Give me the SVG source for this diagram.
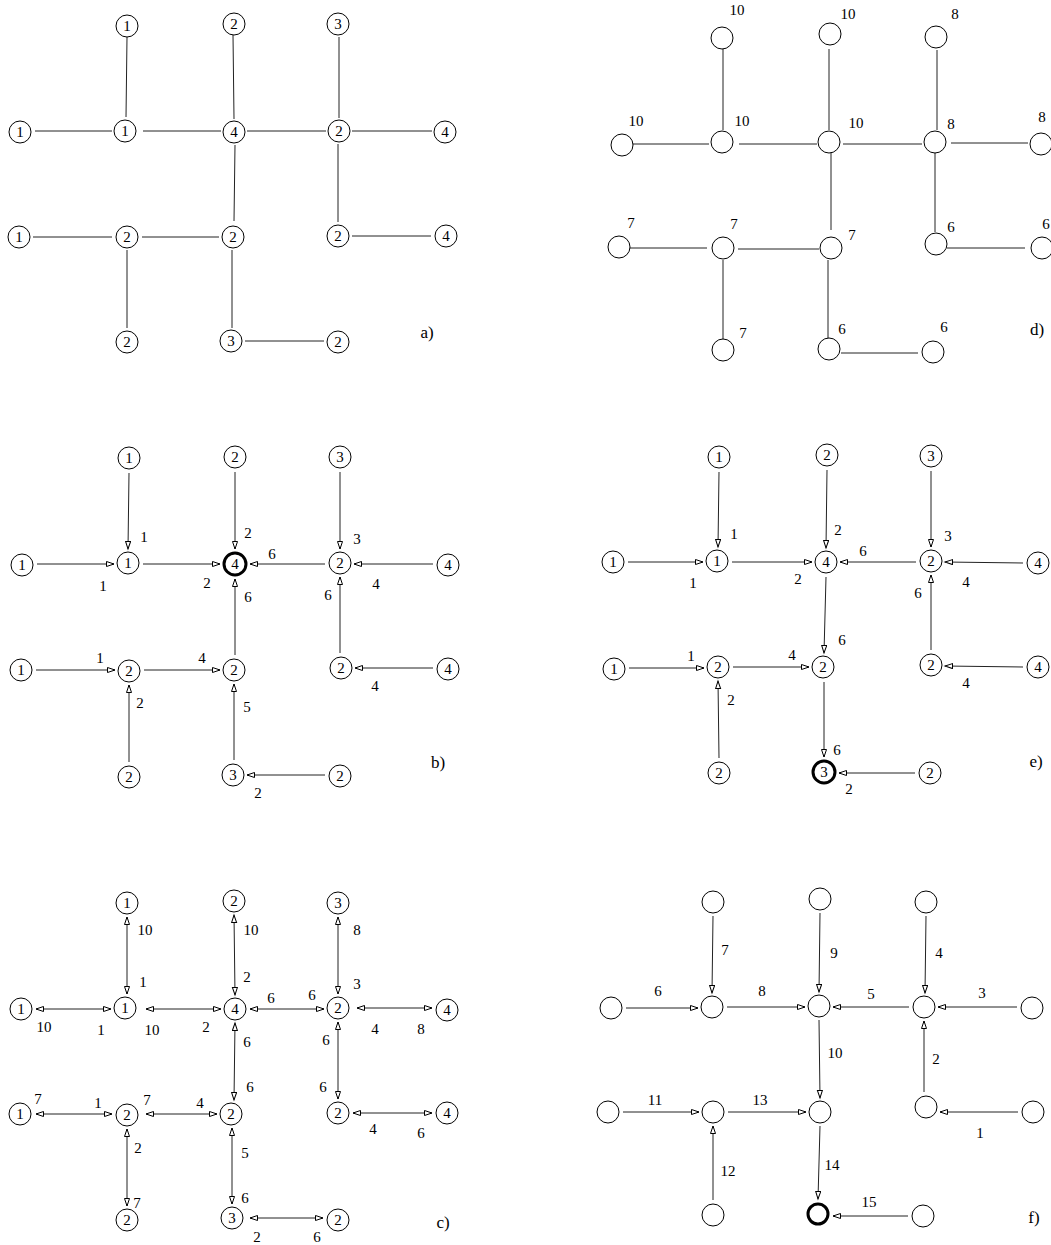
<svg xmlns="http://www.w3.org/2000/svg" width="1051" height="1245" viewBox="0 0 1051 1245">
<style>
circle{fill:#fff;stroke:#000;stroke-width:1}
circle.b{stroke-width:3}
text{font-family:"Liberation Serif","Times New Roman",serif;font-size:15px;fill:#000;text-anchor:middle}
text.p{font-size:17px}
line{stroke:#222;stroke-width:1}
.d line{marker-end:url(#ah)}
.bi line{marker-end:url(#ah);marker-start:url(#ah)}
</style>
<defs>
<marker id="ah" markerUnits="userSpaceOnUse" markerWidth="10" markerHeight="8" refX="8" refY="3" orient="auto-start-reverse"><path d="M0.5,0.5 L8,3 L0.5,5.5 z" fill="#fff" stroke="#000" stroke-width="1"/></marker>
</defs>
<rect width="1051" height="1245" fill="#fff"/>

<!-- Panel a -->
<g id="panel-a">
<g id="a-edges">
<line x1="127" y1="37" x2="126" y2="117"/>
<line x1="233" y1="35" x2="234" y2="119"/>
<line x1="339" y1="37" x2="339" y2="118"/>
<line x1="35" y1="131" x2="112" y2="131"/>
<line x1="143" y1="131" x2="221" y2="131"/>
<line x1="247" y1="131" x2="326" y2="131"/>
<line x1="352" y1="131" x2="432" y2="131"/>
<line x1="235" y1="145" x2="234" y2="221"/>
<line x1="338" y1="144" x2="338" y2="222"/>
<line x1="33" y1="237" x2="112" y2="237"/>
<line x1="142" y1="237" x2="219" y2="237"/>
<line x1="352" y1="236" x2="431" y2="236"/>
<line x1="127" y1="250" x2="127" y2="328"/>
<line x1="232" y1="250" x2="232" y2="328"/>
<line x1="245" y1="341" x2="324" y2="341"/>
</g>
<g id="a-n1"><circle cx="127" cy="26" r="11"/><text x="127" y="31">1</text></g>
<g id="a-n2"><circle cx="234" cy="24" r="11"/><text x="234" y="29">2</text></g>
<g id="a-n3"><circle cx="338" cy="24" r="11"/><text x="338" y="29">3</text></g>
<g id="a-n4"><circle cx="20" cy="132" r="11"/><text x="20" y="137">1</text></g>
<g id="a-n5"><circle cx="125" cy="131" r="11"/><text x="125" y="136">1</text></g>
<g id="a-n6"><circle cx="234" cy="132" r="11"/><text x="234" y="137">4</text></g>
<g id="a-n7"><circle cx="339" cy="131" r="11"/><text x="339" y="136">2</text></g>
<g id="a-n8"><circle cx="445" cy="132" r="11"/><text x="445" y="137">4</text></g>
<g id="a-n9"><circle cx="19" cy="237" r="11"/><text x="19" y="242">1</text></g>
<g id="a-n10"><circle cx="127" cy="237" r="11"/><text x="127" y="242">2</text></g>
<g id="a-n11"><circle cx="233" cy="237" r="11"/><text x="233" y="242">2</text></g>
<g id="a-n12"><circle cx="338" cy="236" r="11"/><text x="338" y="241">2</text></g>
<g id="a-n13"><circle cx="446" cy="236" r="11"/><text x="446" y="241">4</text></g>
<g id="a-n14"><circle cx="127" cy="342" r="11"/><text x="127" y="347">2</text></g>
<g id="a-n15"><circle cx="231" cy="341" r="11"/><text x="231" y="346">3</text></g>
<g id="a-n16"><circle cx="338" cy="342" r="11"/><text x="338" y="347">2</text></g>
<text class="p" x="427" y="338">a)</text>
</g>

<!-- Panel d -->
<g id="panel-d">
<g id="d-edges">
<line x1="723" y1="49" x2="723" y2="130"/>
<line x1="829" y1="49" x2="829" y2="130"/>
<line x1="937" y1="50" x2="937" y2="130"/>
<line x1="633" y1="144" x2="709" y2="144"/>
<line x1="739" y1="144" x2="817" y2="144"/>
<line x1="843" y1="144" x2="922" y2="144"/>
<line x1="951" y1="143" x2="1028" y2="143"/>
<line x1="831" y1="153" x2="831" y2="230"/>
<line x1="935" y1="153" x2="935" y2="232"/>
<line x1="629" y1="248" x2="707" y2="248"/>
<line x1="738" y1="249" x2="819" y2="249"/>
<line x1="947" y1="248" x2="1025" y2="248"/>
<line x1="723" y1="260" x2="723" y2="340"/>
<line x1="828" y1="260" x2="828" y2="340"/>
<line x1="841" y1="353" x2="918" y2="353"/>
</g>
<g id="d-n1"><circle cx="722" cy="38" r="11"/><text x="737" y="15">10</text></g>
<g id="d-n2"><circle cx="830" cy="34" r="11"/><text x="848" y="19">10</text></g>
<g id="d-n3"><circle cx="936" cy="37" r="11"/><text x="955" y="19">8</text></g>
<g id="d-n4"><circle cx="622" cy="145" r="11"/><text x="636" y="126">10</text></g>
<g id="d-n5"><circle cx="722" cy="142" r="11"/><text x="742" y="126">10</text></g>
<g id="d-n6"><circle cx="829" cy="142" r="11"/><text x="856" y="128">10</text></g>
<g id="d-n7"><circle cx="935" cy="142" r="11"/><text x="951" y="129">8</text></g>
<g id="d-n8"><circle cx="1041" cy="144" r="11"/><text x="1042" y="122">8</text></g>
<g id="d-n9"><circle cx="619" cy="247" r="11"/><text x="631" y="228">7</text></g>
<g id="d-n10"><circle cx="723" cy="248" r="11"/><text x="734" y="229">7</text></g>
<g id="d-n11"><circle cx="831" cy="248" r="11"/><text x="852" y="240">7</text></g>
<g id="d-n12"><circle cx="936" cy="244" r="11"/><text x="951" y="232">6</text></g>
<g id="d-n13"><circle cx="1042" cy="248" r="11"/><text x="1046" y="229">6</text></g>
<g id="d-n14"><circle cx="723" cy="350" r="11"/><text x="743" y="338">7</text></g>
<g id="d-n15"><circle cx="829" cy="349" r="11"/><text x="842" y="334">6</text></g>
<g id="d-n16"><circle cx="933" cy="352" r="11"/><text x="944" y="332">6</text></g>
<text class="p" x="1037" y="335">d)</text>
</g>

<!-- Panel b -->
<g id="panel-b">
<g id="b-edges" class="d">
<line x1="129" y1="473" x2="128" y2="549"/>
<line x1="235" y1="472" x2="235" y2="549"/>
<line x1="340" y1="472" x2="340" y2="549"/>
<line x1="37" y1="564" x2="114" y2="564"/>
<line x1="143" y1="564" x2="220" y2="564"/>
<line x1="325" y1="564" x2="250" y2="564"/>
<line x1="433" y1="564" x2="354" y2="564"/>
<line x1="235" y1="655" x2="235" y2="579"/>
<line x1="340" y1="653" x2="340" y2="577"/>
<line x1="36" y1="670" x2="115" y2="670"/>
<line x1="144" y1="670" x2="220" y2="670"/>
<line x1="433" y1="668" x2="355" y2="668"/>
<line x1="129" y1="762" x2="129" y2="685"/>
<line x1="234" y1="760" x2="234" y2="684"/>
<line x1="325" y1="775" x2="247" y2="775"/>
</g>
<g id="b-labels">
<text x="144" y="542">1</text><text x="248" y="538">2</text><text x="357" y="544">3</text>
<text x="103" y="591">1</text><text x="207" y="588">2</text><text x="272" y="559">6</text><text x="376" y="589">4</text>
<text x="248" y="602">6</text><text x="328" y="600">6</text>
<text x="100" y="663">1</text><text x="202" y="663">4</text><text x="375" y="691">4</text>
<text x="140" y="708">2</text><text x="247" y="712">5</text><text x="258" y="798">2</text>
</g>
<g id="b-n1"><circle cx="129" cy="458" r="11"/><text x="129" y="463">1</text></g>
<g id="b-n2"><circle cx="235" cy="457" r="11"/><text x="235" y="462">2</text></g>
<g id="b-n3"><circle cx="340" cy="457" r="11"/><text x="340" y="462">3</text></g>
<g id="b-n4"><circle cx="22" cy="565" r="11"/><text x="22" y="570">1</text></g>
<g id="b-n5"><circle cx="128" cy="563" r="11"/><text x="128" y="568">1</text></g>
<g id="b-n6"><circle class="b" cx="235" cy="564" r="11"/><text x="235" y="569">4</text></g>
<g id="b-n7"><circle cx="340" cy="563" r="11"/><text x="340" y="568">2</text></g>
<g id="b-n8"><circle cx="448" cy="565" r="11"/><text x="448" y="570">4</text></g>
<g id="b-n9"><circle cx="21" cy="670" r="11"/><text x="21" y="675">1</text></g>
<g id="b-n10"><circle cx="129" cy="671" r="11"/><text x="129" y="676">2</text></g>
<g id="b-n11"><circle cx="234" cy="670" r="11"/><text x="234" y="675">2</text></g>
<g id="b-n12"><circle cx="341" cy="668" r="11"/><text x="341" y="673">2</text></g>
<g id="b-n13"><circle cx="448" cy="669" r="11"/><text x="448" y="674">4</text></g>
<g id="b-n14"><circle cx="129" cy="777" r="11"/><text x="129" y="782">2</text></g>
<g id="b-n15"><circle cx="233" cy="775" r="11"/><text x="233" y="780">3</text></g>
<g id="b-n16"><circle cx="340" cy="776" r="11"/><text x="340" y="781">2</text></g>
<text class="p" x="438" y="768">b)</text>
</g>

<!-- Panel e -->
<g id="panel-e">
<g id="e-edges" class="d">
<line x1="719" y1="472" x2="718" y2="547"/>
<line x1="827" y1="470" x2="826" y2="548"/>
<line x1="931" y1="471" x2="931" y2="547"/>
<line x1="628" y1="562" x2="703" y2="562"/>
<line x1="732" y1="562" x2="812" y2="562"/>
<line x1="916" y1="562" x2="840" y2="562"/>
<line x1="1023" y1="563" x2="945" y2="562"/>
<line x1="826" y1="577" x2="824" y2="653"/>
<line x1="931" y1="650" x2="931" y2="575"/>
<line x1="629" y1="668" x2="704" y2="668"/>
<line x1="733" y1="667" x2="809" y2="667"/>
<line x1="1023" y1="667" x2="945" y2="666"/>
<line x1="719" y1="758" x2="718" y2="681"/>
<line x1="824" y1="682" x2="824" y2="757"/>
<line x1="915" y1="773" x2="839" y2="773"/>
</g>
<g id="e-labels">
<text x="734" y="539">1</text><text x="838" y="535">2</text><text x="948" y="541">3</text>
<text x="693" y="588">1</text><text x="798" y="584">2</text><text x="863" y="556">6</text><text x="966" y="587">4</text>
<text x="842" y="645">6</text><text x="918" y="598">6</text>
<text x="691" y="661">1</text><text x="792" y="660">4</text><text x="966" y="688">4</text>
<text x="731" y="705">2</text><text x="837" y="755">6</text><text x="849" y="794">2</text>
</g>
<g id="e-n1"><circle cx="719" cy="457" r="11"/><text x="719" y="462">1</text></g>
<g id="e-n2"><circle cx="827" cy="455" r="11"/><text x="827" y="460">2</text></g>
<g id="e-n3"><circle cx="931" cy="456" r="11"/><text x="931" y="461">3</text></g>
<g id="e-n4"><circle cx="613" cy="562" r="11"/><text x="613" y="567">1</text></g>
<g id="e-n5"><circle cx="717" cy="561" r="11"/><text x="717" y="566">1</text></g>
<g id="e-n6"><circle cx="826" cy="562" r="11"/><text x="826" y="567">4</text></g>
<g id="e-n7"><circle cx="931" cy="561" r="11"/><text x="931" y="566">2</text></g>
<g id="e-n8"><circle cx="1038" cy="563" r="11"/><text x="1038" y="568">4</text></g>
<g id="e-n9"><circle cx="614" cy="669" r="11"/><text x="614" y="674">1</text></g>
<g id="e-n10"><circle cx="718" cy="667" r="11"/><text x="718" y="672">2</text></g>
<g id="e-n11"><circle cx="823" cy="667" r="11"/><text x="823" y="672">2</text></g>
<g id="e-n12"><circle cx="931" cy="665" r="11"/><text x="931" y="670">2</text></g>
<g id="e-n13"><circle cx="1038" cy="667" r="11"/><text x="1038" y="672">4</text></g>
<g id="e-n14"><circle cx="719" cy="773" r="11"/><text x="719" y="778">2</text></g>
<g id="e-n15"><circle class="b" cx="824" cy="772" r="11"/><text x="824" y="777">3</text></g>
<g id="e-n16"><circle cx="930" cy="773" r="11"/><text x="930" y="778">2</text></g>
<text class="p" x="1036" y="767">e)</text>
</g>

<!-- Panel c -->
<g id="panel-c">
<g id="c-edges" class="bi">
<line x1="127" y1="917" x2="127" y2="994"/>
<line x1="234" y1="915" x2="235" y2="995"/>
<line x1="338" y1="917" x2="338" y2="994"/>
<line x1="36" y1="1009" x2="111" y2="1009"/>
<line x1="146" y1="1009" x2="221" y2="1009"/>
<line x1="250" y1="1009" x2="324" y2="1009"/>
<line x1="357" y1="1008" x2="432" y2="1008"/>
<line x1="235" y1="1023" x2="234" y2="1100"/>
<line x1="338" y1="1022" x2="338" y2="1099"/>
<line x1="36" y1="1114" x2="112" y2="1114"/>
<line x1="146" y1="1114" x2="217" y2="1114"/>
<line x1="353" y1="1113" x2="432" y2="1113"/>
<line x1="127" y1="1129" x2="127" y2="1206"/>
<line x1="232" y1="1128" x2="232" y2="1204"/>
<line x1="250" y1="1218" x2="323" y2="1218"/>
</g>
<g id="c-labels">
<text x="145" y="935">10</text><text x="143" y="987">1</text>
<text x="251" y="935">10</text><text x="247" y="982">2</text>
<text x="357" y="935">8</text><text x="357" y="989">3</text>
<text x="44" y="1032">10</text><text x="101" y="1035">1</text>
<text x="152" y="1035">10</text><text x="206" y="1032">2</text>
<text x="271" y="1003">6</text><text x="312" y="1000">6</text>
<text x="375" y="1034">4</text><text x="421" y="1034">8</text>
<text x="247" y="1047">6</text><text x="250" y="1092">6</text>
<text x="326" y="1045">6</text><text x="323" y="1092">6</text>
<text x="38" y="1104">7</text><text x="98" y="1108">1</text>
<text x="147" y="1105">7</text><text x="200" y="1108">4</text>
<text x="373" y="1134">4</text><text x="421" y="1138">6</text>
<text x="138" y="1153">2</text><text x="137" y="1208">7</text>
<text x="245" y="1158">5</text><text x="245" y="1203">6</text>
<text x="257" y="1242">2</text><text x="317" y="1242">6</text>
</g>
<g id="c-n1"><circle cx="127" cy="903" r="11"/><text x="127" y="908">1</text></g>
<g id="c-n2"><circle cx="234" cy="901" r="11"/><text x="234" y="906">2</text></g>
<g id="c-n3"><circle cx="338" cy="903" r="11"/><text x="338" y="908">3</text></g>
<g id="c-n4"><circle cx="21" cy="1009" r="11"/><text x="21" y="1014">1</text></g>
<g id="c-n5"><circle cx="125" cy="1008" r="11"/><text x="125" y="1013">1</text></g>
<g id="c-n6"><circle cx="235" cy="1009" r="11"/><text x="235" y="1014">4</text></g>
<g id="c-n7"><circle cx="338" cy="1008" r="11"/><text x="338" y="1013">2</text></g>
<g id="c-n8"><circle cx="447" cy="1010" r="11"/><text x="447" y="1015">4</text></g>
<g id="c-n9"><circle cx="20" cy="1114" r="11"/><text x="20" y="1119">1</text></g>
<g id="c-n10"><circle cx="127" cy="1115" r="11"/><text x="127" y="1120">2</text></g>
<g id="c-n11"><circle cx="231" cy="1114" r="11"/><text x="231" y="1119">2</text></g>
<g id="c-n12"><circle cx="338" cy="1113" r="11"/><text x="338" y="1118">2</text></g>
<g id="c-n13"><circle cx="447" cy="1113" r="11"/><text x="447" y="1118">4</text></g>
<g id="c-n14"><circle cx="127" cy="1220" r="11"/><text x="127" y="1225">2</text></g>
<g id="c-n15"><circle cx="232" cy="1218" r="11"/><text x="232" y="1223">3</text></g>
<g id="c-n16"><circle cx="338" cy="1220" r="11"/><text x="338" y="1225">2</text></g>
<text class="p" x="443" y="1228">c)</text>
</g>

<!-- Panel f -->
<g id="panel-f">
<g id="f-edges" class="d">
<line x1="713" y1="916" x2="712" y2="993"/>
<line x1="820" y1="913" x2="819" y2="992"/>
<line x1="926" y1="916" x2="925" y2="993"/>
<line x1="626" y1="1008" x2="698" y2="1008"/>
<line x1="727" y1="1007" x2="805" y2="1007"/>
<line x1="909" y1="1007" x2="833" y2="1007"/>
<line x1="1017" y1="1007" x2="938" y2="1007"/>
<line x1="924" y1="1092" x2="924" y2="1021"/>
<line x1="819" y1="1020" x2="820" y2="1098"/>
<line x1="623" y1="1112" x2="699" y2="1112"/>
<line x1="728" y1="1112" x2="806" y2="1112"/>
<line x1="1018" y1="1112" x2="940" y2="1112"/>
<line x1="713" y1="1200" x2="713" y2="1126"/>
<line x1="820" y1="1126" x2="818" y2="1199"/>
<line x1="908" y1="1216" x2="833" y2="1216"/>
</g>
<g id="f-labels">
<text x="725" y="955">7</text><text x="834" y="958">9</text><text x="939" y="958">4</text>
<text x="658" y="996">6</text><text x="762" y="996">8</text><text x="871" y="999">5</text><text x="982" y="998">3</text>
<text x="936" y="1064">2</text><text x="835" y="1058">10</text>
<text x="655" y="1105">11</text><text x="760" y="1105">13</text><text x="980" y="1138">1</text>
<text x="728" y="1176">12</text><text x="832" y="1170">14</text><text x="869" y="1207">15</text>
</g>
<g id="f-n1"><circle cx="713" cy="902" r="11"/></g>
<g id="f-n2"><circle cx="820" cy="899" r="11"/></g>
<g id="f-n3"><circle cx="926" cy="902" r="11"/></g>
<g id="f-n4"><circle cx="611" cy="1008" r="11"/></g>
<g id="f-n5"><circle cx="712" cy="1007" r="11"/></g>
<g id="f-n6"><circle cx="819" cy="1006" r="11"/></g>
<g id="f-n7"><circle cx="924" cy="1007" r="11"/></g>
<g id="f-n8"><circle cx="1032" cy="1008" r="11"/></g>
<g id="f-n9"><circle cx="608" cy="1112" r="11"/></g>
<g id="f-n10"><circle cx="713" cy="1112" r="11"/></g>
<g id="f-n11"><circle cx="820" cy="1112" r="11"/></g>
<g id="f-n12"><circle cx="926" cy="1107" r="11"/></g>
<g id="f-n13"><circle cx="1033" cy="1112" r="11"/></g>
<g id="f-n14"><circle cx="713" cy="1215" r="11"/></g>
<g id="f-n15"><circle class="b" cx="818" cy="1214" r="10"/></g>
<g id="f-n16"><circle cx="923" cy="1216" r="11"/></g>
<text class="p" x="1034" y="1223">f)</text>
</g>
</svg>
